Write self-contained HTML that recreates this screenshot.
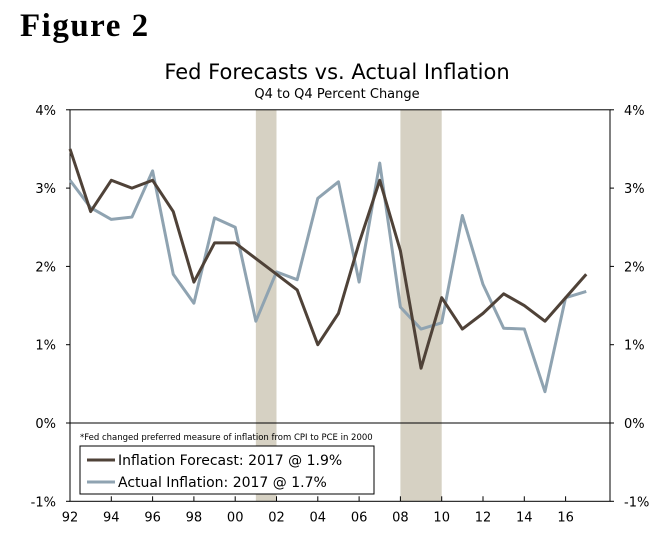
<!DOCTYPE html>
<html><head><meta charset="utf-8"><style>
body{margin:0;background:#fff;}
svg{display:block;font-family:"DejaVu Sans","Liberation Sans",sans-serif;}
</style></head><body>
<svg id="chart" width="657" height="535">
<text x="20" y="36" font-family="Liberation Serif,serif" font-weight="bold" font-size="33" letter-spacing="1.5">Figure 2</text>
<text x="337" y="79" text-anchor="middle" font-size="21">Fed Forecasts vs. Actual Inflation</text>
<text x="337" y="98" text-anchor="middle" font-size="13">Q4 to Q4 Percent Change</text>
<g id="rec"></g>
<g id="axes"></g>
<g id="lines"></g>
<text x="80" y="440" font-size="8.5">*Fed changed preferred measure of inflation from CPI to PCE in 2000</text>
<rect x="80" y="446" width="294" height="48" fill="#fff" stroke="#000" stroke-width="1"/>
<line x1="87" y1="460" x2="115" y2="460" stroke="#4f4238" stroke-width="3"/>
<text x="118" y="465" font-size="14">Inflation Forecast: 2017 @ 1.9%</text>
<line x1="87" y1="482" x2="115" y2="482" stroke="#8fa3b1" stroke-width="3"/>
<text x="118" y="487" font-size="14">Actual Inflation: 2017 @ 1.7%</text>
</svg>
<script>
const years=[1992,1993,1994,1995,1996,1997,1998,1999,2000,2001,2002,2003,2004,2005,2006,2007,2008,2009,2010,2011,2012,2013,2014,2015,2016,2017];
const forecast=[3.5,2.7,3.1,3.0,3.1,2.7,1.8,2.3,2.3,2.1,1.9,1.7,1.0,1.4,2.3,3.1,2.2,0.7,1.6,1.2,1.4,1.65,1.5,1.3,1.6,1.9];
const actual=[3.1,2.75,2.6,2.63,3.22,1.9,1.53,2.62,2.5,1.3,1.93,1.83,2.87,3.08,1.8,3.32,1.48,1.2,1.28,2.65,1.77,1.21,1.2,0.4,1.6,1.68];
const yTicks=[-1,0,1,2,3,4];
const yLabels=["-1%","0%","1%","2%","3%","4%"];
const xTickYears=[1992,1994,1996,1998,2000,2002,2004,2006,2008,2010,2012,2014,2016];
const xLabels=["92","94","96","98","00","02","04","06","08","10","12","14","16"];
const recessions=[[2001,2002],[2008,2010]];
const ns="http://www.w3.org/2000/svg";
const X=y=>70+(y-1992)*20.65, Y=v=>423-v*78.3;
const L=70,R=610,T=Y(4),B=Y(-1);
function mk(p,t,a){const e=document.createElementNS(ns,t);for(const k in a)e.setAttribute(k,a[k]);document.getElementById(p).appendChild(e);return e;}
recessions.forEach(r=>{const e=mk('rec','rect',{x:X(r[0]),y:T,width:X(r[1])-X(r[0]),height:B-T,fill:'#d6d1c3'});

});
let f=mk('axes','rect',{x:L,y:T,width:R-L,height:B-T,fill:'none',stroke:'#000','stroke-width':1});


let z=mk('axes','line',{x1:L,x2:R,y1:Y(0),y2:Y(0),stroke:'#000'});


yTicks.forEach((v,i)=>{
let a=mk('axes','text',{x:L-14,y:Y(v)+5,'text-anchor':'end','font-size':13});a.textContent=yLabels[i];


let b=mk('axes','text',{x:R+14,y:Y(v)+5,'font-size':13});b.textContent=yLabels[i];


mk('axes','line',{x1:L-4,x2:L,y1:Y(v),y2:Y(v),stroke:'#000'});
mk('axes','line',{x1:R,x2:R+4,y1:Y(v),y2:Y(v),stroke:'#000'});
});
xTickYears.forEach((yr,i)=>{
let t=mk('axes','text',{x:X(yr),y:B+20,'text-anchor':'middle','font-size':13});t.textContent=xLabels[i];


mk('axes','line',{x1:X(yr),x2:X(yr),y1:B-5,y2:B,stroke:'#000'});
});
function line(d,c,n){const p=mk('lines','polyline',{points:d.map((v,i)=>X(years[i])+','+Y(v)).join(' '),fill:'none',stroke:c,'stroke-width':3,'stroke-linejoin':'round'});

}
line(actual,'#8fa3b1','actual-inflation-line');
line(forecast,'#4f4238','forecast-line');
</script>
</body></html>
